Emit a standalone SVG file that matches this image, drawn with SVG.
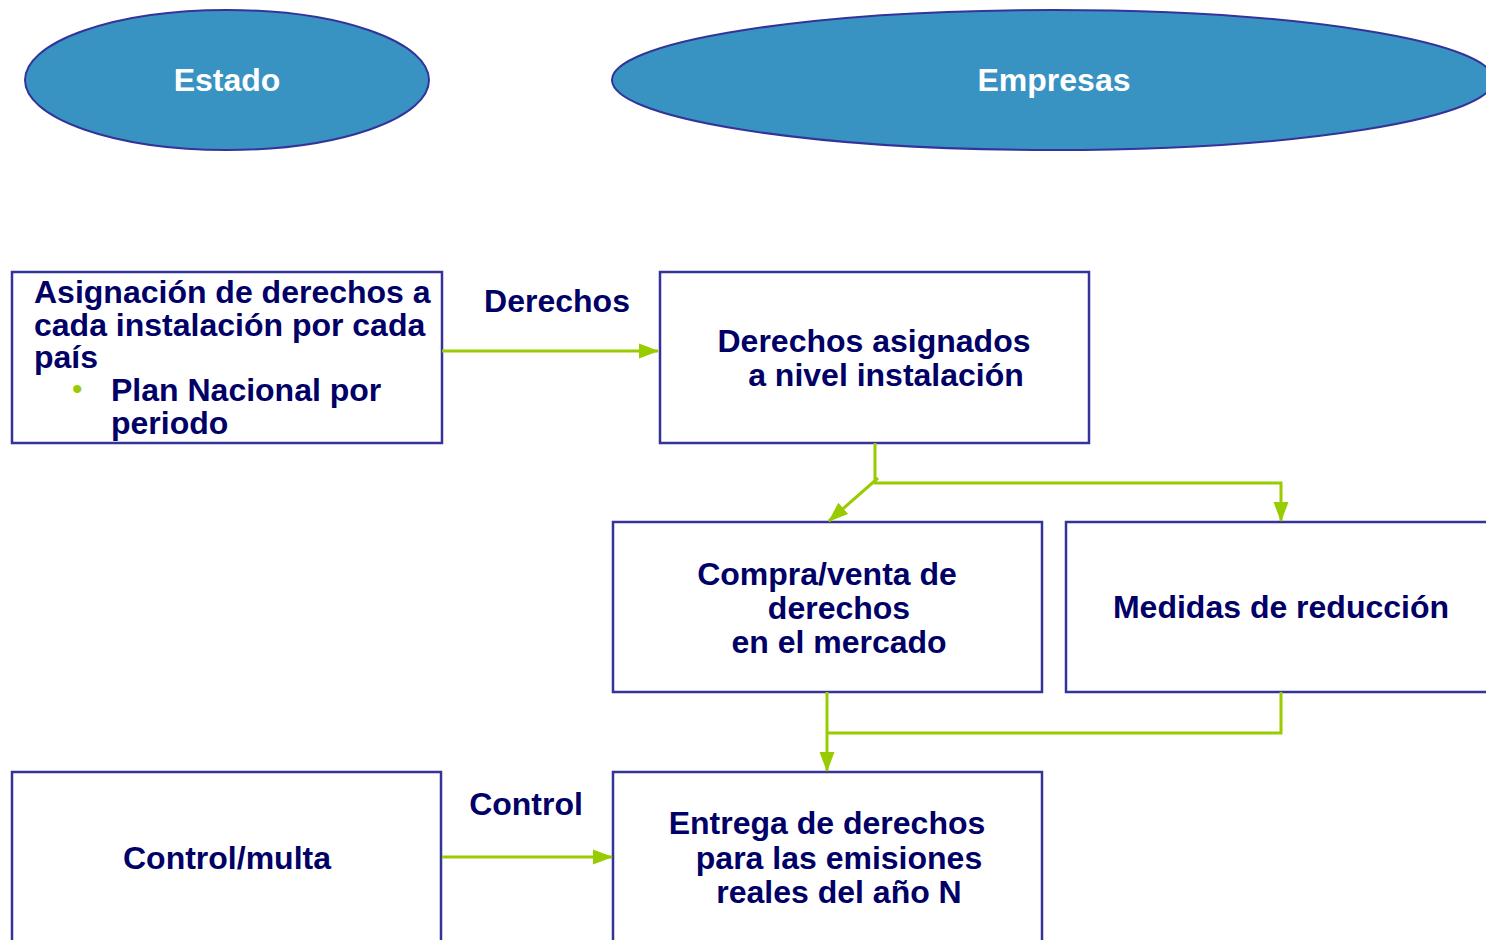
<svg xmlns="http://www.w3.org/2000/svg" width="1486" height="940" viewBox="0 0 1486 940">
<style>
.ell{fill:#3893C3;stroke:#333399;stroke-width:2}
.box{fill:#fff;stroke:#333399;stroke-width:2.5}
.t{font-family:"Liberation Sans",Arial,sans-serif;font-weight:bold;font-size:32px;fill:#000066}
.w{font-family:"Liberation Sans",Arial,sans-serif;font-weight:bold;font-size:32px;fill:#fff}
.c{text-anchor:middle}
.ln{fill:none;stroke:#99CC00;stroke-width:3}
</style>
<defs>
<marker id="ah2" markerWidth="20" markerHeight="18" refX="19" refY="9" orient="auto" markerUnits="userSpaceOnUse" viewBox="0 0 20 18">
<path d="M0,1.5 L20,9 L0,16.5 Z" fill="#99CC00"/>
</marker>
</defs>
<rect width="1486" height="940" fill="#fff"/>
<g id="estado">
<ellipse class="ell" cx="227" cy="80" rx="202" ry="70"/>
<text class="w c" x="227" y="91">Estado</text>
</g>
<g id="empresas">
<ellipse class="ell" cx="1053" cy="80" rx="441" ry="70"/>
<text class="w c" x="1054" y="91">Empresas</text>
</g>
<g id="asignacion">
<rect class="box" x="12" y="272" width="430" height="171"/>
<text class="t" x="34" y="303">Asignación de derechos a</text>
<text class="t" x="34" y="336">cada instalación por cada</text>
<text class="t" x="34" y="368">país</text>
<text x="72" y="399" style="font-family:'Liberation Sans',Arial,sans-serif;font-size:30px;fill:#99CC00">•</text>
<text class="t" x="111" y="401">Plan Nacional por</text>
<text class="t" x="111" y="434">periodo</text>
</g>
<g id="derechos-asignados">
<rect class="box" x="660" y="272" width="429" height="171"/>
<text class="t c" x="874" y="352">Derechos asignados</text>
<text class="t c" x="886" y="386">a nivel instalación</text>
</g>
<g id="compraventa">
<rect class="box" x="613" y="522" width="429" height="170"/>
<text class="t c" x="827" y="585">Compra/venta de</text>
<text class="t c" x="839" y="619">derechos</text>
<text class="t c" x="839" y="653">en el mercado</text>
</g>
<g id="medidas">
<rect class="box" x="1066" y="522" width="430" height="170"/>
<text class="t c" x="1281" y="618">Medidas de reducción</text>
</g>
<g id="control-multa">
<rect class="box" x="12" y="772" width="429" height="180"/>
<text class="t c" x="227" y="869">Control/multa</text>
</g>
<g id="entrega">
<rect class="box" x="613" y="772" width="429" height="180"/>
<text class="t c" x="827" y="834">Entrega de derechos</text>
<text class="t c" x="839" y="869">para las emisiones</text>
<text class="t c" x="839" y="903">reales del año N</text>
</g>
<g id="connectors">
<line class="ln" x1="442" y1="351" x2="658" y2="351" marker-end="url(#ah2)"/>
<text class="t c" x="557" y="312">Derechos</text>
<polyline class="ln" points="875,443 875,483 1281,483 1281,521" marker-end="url(#ah2)"/>
<line class="ln" x1="878" y1="478" x2="829" y2="521" marker-end="url(#ah2)"/>
<line class="ln" x1="827" y1="692" x2="827" y2="771" marker-end="url(#ah2)"/>
<polyline class="ln" points="1281,692 1281,733 827,733"/>
<line class="ln" x1="442" y1="857" x2="612" y2="857" marker-end="url(#ah2)"/>
<text class="t c" x="526" y="815">Control</text>
</g>
</svg>
